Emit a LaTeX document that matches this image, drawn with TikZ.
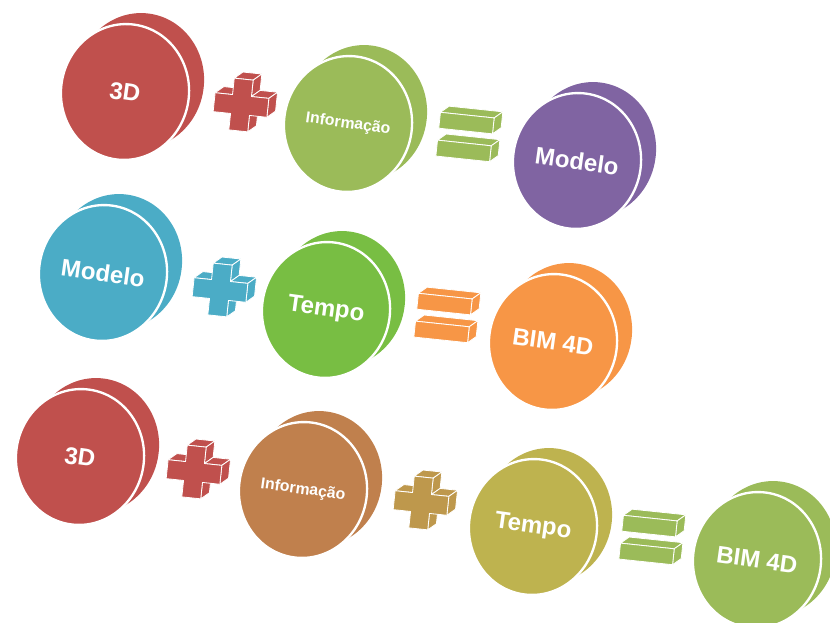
\documentclass[tikz,border=0pt]{standalone}
\usepackage{fontspec}
\setsansfont{Liberation Sans}
\usepackage{tikz}
\usetikzlibrary{shapes.geometric}

\definecolor{discred}{HTML}{C0504D}
\definecolor{discgreen}{HTML}{9BBB59}
\definecolor{discpurple}{HTML}{8064A2}
\definecolor{discblue}{HTML}{4BACC6}
\definecolor{disclime}{HTML}{78BE43}
\definecolor{discorange}{HTML}{F79646}
\definecolor{discbrown}{HTML}{C0804D}
\definecolor{discgold}{HTML}{BE984C}
\definecolor{discolive}{HTML}{BEB34F}

\begin{document}
\begin{tikzpicture}[
  x=0.03cm, y=-0.03cm,
  disc/.style={ellipse, minimum width=3.84cm, minimum height=4.08cm,
    inner sep=0pt},
  back/.style={disc, xshift=0.45cm, yshift=0.33cm, rotate=-8},
  face/.style={disc, draw=white, line width=2pt, rotate=-8, text=white,
    bigtxt},
  bigtxt/.style={font=\sffamily\bfseries\fontsize{20.5}{24}\selectfont},
  smalltxt/.style={font=\sffamily\bfseries\fontsize{13.5}{16}\selectfont},
  side/.style={fill=#1, draw=white, line width=0.7pt, line join=round},
  pics/plus3d/.style={code={
    % side faces (top and right)
    \filldraw[side=#1] (-9.5,-26) -- (9.5,-26) -- (17.5,-33) -- (-1.5,-33) -- cycle;
    \filldraw[side=#1] (9.5,-26) -- (9.5,-9.5) -- (17.5,-16.5) -- (17.5,-33) -- cycle;
    \filldraw[side=#1] (9.5,-9.5) -- (27,-9.5) -- (35,-16.5) -- (17.5,-16.5) -- cycle;
    \filldraw[side=#1] (27,-9.5) -- (27,9.5) -- (35,2.5) -- (35,-16.5) -- cycle;
    \filldraw[side=#1] (-27,-9.5) -- (-9.5,-9.5) -- (-1.5,-16.5) -- (-19,-16.5) -- cycle;
    \filldraw[side=#1] (9.5,9.5) -- (9.5,26) -- (17.5,19) -- (17.5,2.5) -- cycle;
    % front face
    \filldraw[side=#1] (-9.5,-26) -- (9.5,-26) -- (9.5,-9.5) -- (27,-9.5)
      -- (27,9.5) -- (9.5,9.5) -- (9.5,26) -- (-9.5,26) -- (-9.5,9.5)
      -- (-27,9.5) -- (-27,-9.5) -- (-9.5,-9.5) -- cycle;
  }},
  pics/equal3d/.style={code={
    \foreach \b in {-14,14} {
      \filldraw[side=#1] (-27,\b-8) -- (27,\b-8) -- (35,\b-15) -- (-19,\b-15) -- cycle;
      \filldraw[side=#1] (27,\b-8) -- (27,\b+8) -- (35,\b+1) -- (35,\b-15) -- cycle;
      \filldraw[side=#1] (-27,\b-8) rectangle (27,\b+8);
    }
  }},
]
  \useasboundingbox (0,0) rectangle (830,623);

  % Discs: back disc first, then the front face with its label
  \foreach \n/\x/\y/\c/\s/\t in {
      r1a/125/92/discred/bigtxt/3D,
      r1b/348/124/discgreen/smalltxt/Informação,
      r1c/577/161/discpurple/bigtxt/Modelo,
      r2a/103/273/discblue/bigtxt/Modelo,
      r2b/326/310/disclime/bigtxt/Tempo,
      r2c/553/342/discorange/bigtxt/BIM 4D,
      r3a/80/457/discred/bigtxt/3D,
      r3b/303/490/discbrown/smalltxt/Informação,
      r3c/533/527/discolive/bigtxt/Tempo,
      r3d/757/560/discgreen/bigtxt/BIM 4D} {
    \node[back, fill=\c] (\n b) at (\x,\y) {};
    \node[face, fill=\c, \s] (\n) at (\x,\y) {\t};
  }

  % Plus signs
  \foreach \x/\y/\c in {241/105/discred, 220/290/discblue,
                        194/472/discred, 421/503/discgold} {
    \pic[rotate=-6] at (\x,\y) {plus3d=\c};
  }

  % Equals signs
  \foreach \x/\y/\c in {465/137/discgreen, 443/318/discorange,
                        648/540/discgreen} {
    \pic[rotate=-6] at (\x,\y) {equal3d=\c};
  }
\end{tikzpicture}
\end{document}
